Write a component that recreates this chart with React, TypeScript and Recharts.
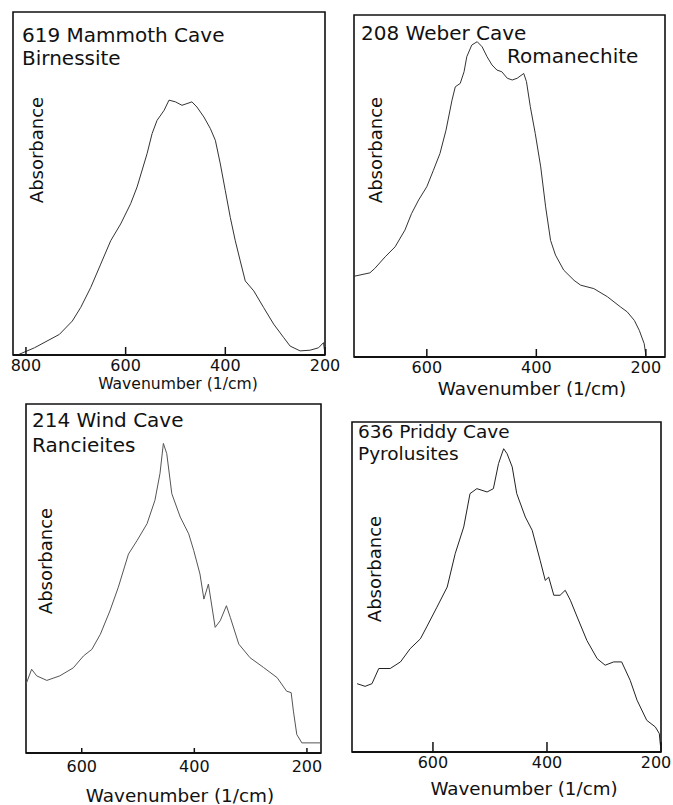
import React from 'react';
import { LineChart, Line, XAxis, YAxis, ReferenceArea, Customized } from 'recharts';

const FONT = '"DejaVu Sans", Verdana, sans-serif';

// 619 Mammoth Cave - Birnessite
const mammothWavenumber = [817, 783, 733, 707, 690, 670, 650, 630, 610, 590, 577, 557, 547, 537, 523, 513, 500, 487, 477, 467, 457, 443, 430, 420, 410, 400, 390, 380, 370, 360, 343, 323, 303, 283, 270, 250, 230, 213, 203, 200];
const mammothAbsorbance = [0.0, 0.021, 0.06, 0.099, 0.139, 0.197, 0.265, 0.333, 0.382, 0.441, 0.49, 0.587, 0.645, 0.684, 0.713, 0.743, 0.738, 0.728, 0.733, 0.738, 0.723, 0.694, 0.66, 0.626, 0.557, 0.479, 0.401, 0.333, 0.274, 0.216, 0.187, 0.138, 0.09, 0.051, 0.026, 0.012, 0.014, 0.021, 0.036, 0.002];

// 208 Weber Cave - Romanechite
const weberWavenumber = [733, 704, 695, 676, 658, 640, 628, 615, 600, 588, 576, 565, 554, 548, 539, 532, 527, 518, 508, 499, 490, 481, 472, 463, 453, 444, 435, 423, 418, 411, 402, 392, 383, 374, 365, 350, 331, 319, 295, 270, 246, 234, 221, 212, 203, 200];
const weberAbsorbance = [0.236, 0.246, 0.259, 0.293, 0.322, 0.371, 0.419, 0.459, 0.498, 0.546, 0.595, 0.663, 0.751, 0.79, 0.8, 0.834, 0.878, 0.912, 0.922, 0.907, 0.878, 0.854, 0.839, 0.834, 0.815, 0.81, 0.815, 0.829, 0.805, 0.732, 0.654, 0.556, 0.439, 0.341, 0.298, 0.254, 0.224, 0.21, 0.2, 0.176, 0.146, 0.132, 0.107, 0.078, 0.039, 0.005];

// 214 Wind Cave - Rancieites
const windWavenumber = [699, 689, 680, 662, 639, 615, 597, 582, 567, 550, 535, 517, 502, 484, 470, 461, 455, 449, 440, 425, 410, 401, 390, 383, 375, 363, 354, 343, 336, 321, 301, 277, 253, 236, 228, 224, 218, 209, 176];
const windAbsorbance = [0.197, 0.24, 0.221, 0.208, 0.221, 0.244, 0.278, 0.297, 0.34, 0.407, 0.475, 0.57, 0.608, 0.657, 0.724, 0.801, 0.887, 0.858, 0.743, 0.676, 0.628, 0.58, 0.513, 0.441, 0.484, 0.36, 0.379, 0.422, 0.388, 0.312, 0.273, 0.245, 0.216, 0.177, 0.173, 0.12, 0.053, 0.029, 0.029];

// 636 Priddy Cave - Pyrolusites
const priddyWavenumber = [733, 719, 707, 695, 675, 657, 640, 622, 611, 593, 575, 561, 546, 535, 523, 505, 494, 485, 476, 470, 461, 453, 438, 426, 412, 403, 397, 388, 377, 368, 359, 347, 330, 312, 298, 283, 269, 254, 242, 225, 210, 203, 201];
const priddyAbsorbance = [0.207, 0.199, 0.207, 0.253, 0.253, 0.273, 0.313, 0.343, 0.379, 0.439, 0.5, 0.601, 0.682, 0.783, 0.798, 0.788, 0.798, 0.874, 0.919, 0.904, 0.864, 0.783, 0.712, 0.672, 0.581, 0.52, 0.53, 0.475, 0.475, 0.49, 0.46, 0.409, 0.338, 0.283, 0.263, 0.273, 0.273, 0.217, 0.157, 0.096, 0.076, 0.056, 0.02];

const topLeftTicks = [800, 600, 400, 200];
const otherTicks = [600, 400, 200];

type Title = { text: string; x: number; y: number };

interface PanelProps {
  left: number;
  top: number;
  width: number;
  height: number;
  margin: { top: number; left: number; right: number };
  axisHeight: number;
  domain: [number, number];
  ticks: number[];
  wavenumber: number[];
  absorbance: number[];
  titles: Title[];
  titleSize: number;
  absX: number;
  absY: number;
  tickDy: number;
  tickLen: number;
  lastTickDx?: number;
  xLabel: { x: number; y: number; size: number };
  lineColor: string;
}

const Panel: React.FC<PanelProps> = (p) => {
  const data = p.wavenumber.map((w, i) => ({ wn: w, abs: p.absorbance[i] }));

  const renderTick = (props: any) => {
    const { x, y, payload } = props;
    // the 200 label at the far right can run off the page, nudge it in
    const dx = payload.value === 200 ? p.lastTickDx || 0 : 0;
    return (
      <g>
        <line x1={x} y1={y} x2={x} y2={y - p.tickLen} stroke="#111" strokeWidth={1.5} />
        <text x={x + dx} y={y + p.tickDy} textAnchor="middle" fontSize={16} fill="#111" fontFamily={FONT}>
          {payload.value}
        </text>
      </g>
    );
  };

  return (
    <div style={{ position: 'absolute', left: p.left, top: p.top }}>
      <LineChart
        width={p.width}
        height={p.height}
        data={data}
        margin={{ top: p.margin.top, left: p.margin.left, right: p.margin.right, bottom: 0 }}
      >
        <XAxis
          dataKey="wn"
          type="number"
          domain={p.domain}
          reversed
          ticks={p.ticks}
          interval={0}
          height={p.axisHeight}
          tickSize={0}
          tickMargin={0}
          tickLine={false}
          tick={renderTick}
          axisLine={{ stroke: '#111', strokeWidth: 2 }}
          allowDataOverflow
        />
        <YAxis
          type="number"
          domain={[0, 1]}
          width={0}
          tick={false}
          tickLine={false}
          axisLine={false}
          allowDataOverflow
        />
        <ReferenceArea
          x1={p.domain[0]}
          x2={p.domain[1]}
          y1={0}
          y2={1}
          fill="none"
          stroke="#111"
          strokeWidth={1.6}
          ifOverflow="visible"
        />
        <Line
          type="linear"
          dataKey="abs"
          stroke={p.lineColor}
          strokeWidth={1}
          dot={false}
          isAnimationActive={false}
        />
        <Customized
          component={() => (
            <g fontFamily={FONT} fill="#111">
              {p.titles.map((t) => (
                <text key={t.text} x={t.x} y={t.y} fontSize={p.titleSize}>
                  {t.text}
                </text>
              ))}
              <text
                x={p.absX}
                y={p.absY}
                fontSize={18}
                textAnchor="middle"
                transform={`rotate(-90 ${p.absX} ${p.absY})`}
              >
                Absorbance
              </text>
              <text x={p.xLabel.x} y={p.xLabel.y} fontSize={p.xLabel.size} textAnchor="middle">
                Wavenumber (1/cm)
              </text>
            </g>
          )}
        />
      </LineChart>
    </div>
  );
};

export default function App() {
  return (
    <div style={{ position: 'absolute', left: 0, top: 0, width: 673, height: 805, background: '#fff', overflow: 'hidden' }}>
      <Panel
        left={0}
        top={0}
        width={340}
        height={400}
        margin={{ top: 12, left: 13, right: 15 }}
        axisHeight={45}
        domain={[200, 826]}
        ticks={topLeftTicks}
        wavenumber={mammothWavenumber}
        absorbance={mammothAbsorbance}
        titles={[
          { text: '619 Mammoth Cave', x: 22, y: 42 },
          { text: 'Birnessite', x: 22, y: 65 },
        ]}
        titleSize={20}
        absX={43}
        absY={150}
        tickDy={16}
        tickLen={8}
        xLabel={{ x: 178, y: 389, size: 15.6 }}
        lineColor="#333"
      />
      <Panel
        left={340}
        top={0}
        width={333}
        height={400}
        margin={{ top: 15, left: 14, right: 8 }}
        axisHeight={43}
        domain={[165, 733]}
        ticks={otherTicks}
        wavenumber={weberWavenumber}
        absorbance={weberAbsorbance}
        titles={[
          { text: '208 Weber Cave', x: 21, y: 40 },
          { text: 'Romanechite', x: 167, y: 63 },
        ]}
        titleSize={20}
        absX={42}
        absY={150}
        tickDy={16}
        tickLen={8}
        xLabel={{ x: 192, y: 395, size: 18.4 }}
        lineColor="#333"
      />
      <Panel
        left={0}
        top={400}
        width={340}
        height={405}
        margin={{ top: 4, left: 26, right: 19 }}
        axisHeight={52}
        domain={[175, 699]}
        ticks={otherTicks}
        wavenumber={windWavenumber}
        absorbance={windAbsorbance}
        titles={[
          { text: '214 Wind Cave', x: 32, y: 27 },
          { text: 'Rancieites', x: 32, y: 52 },
        ]}
        titleSize={20}
        absX={52}
        absY={161}
        tickDy={19}
        tickLen={5}
        xLabel={{ x: 180, y: 402, size: 18.4 }}
        lineColor="#555"
      />
      <Panel
        left={340}
        top={400}
        width={333}
        height={405}
        margin={{ top: 22, left: 12, right: 12 }}
        axisHeight={53}
        domain={[200, 742]}
        ticks={otherTicks}
        wavenumber={priddyWavenumber}
        absorbance={priddyAbsorbance}
        titles={[
          { text: '636 Priddy Cave', x: 18, y: 38 },
          { text: 'Pyrolusites', x: 18, y: 60 },
        ]}
        titleSize={18.5}
        absX={41}
        absY={169}
        tickDy={16}
        tickLen={10}
        lastTickDx={-5}
        xLabel={{ x: 184, y: 395, size: 18.3 }}
        lineColor="#222"
      />
    </div>
  );
}
